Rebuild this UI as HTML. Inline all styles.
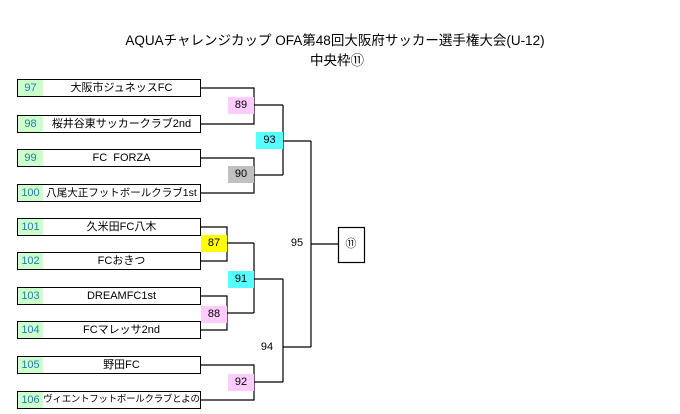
<!DOCTYPE html>
<html><head><meta charset="utf-8"><style>
body{margin:0;width:680px;height:414px;background:#fff;position:relative;overflow:hidden;font-family:"Liberation Sans","Noto Sans CJK JP",sans-serif;}
.t{position:absolute;white-space:nowrap;color:#000;}
.id{position:absolute;left:17px;width:25px;height:16px;border:1px solid #000;background:#ccffcc;color:#1f7fa8;font-size:11px;line-height:16px;text-align:center;box-sizing:content-box}
.nm{position:absolute;left:43px;width:157px;height:16px;border:1px solid #000;border-left:none;background:#fff;font-size:11px;line-height:16px;text-align:center;white-space:nowrap;overflow:hidden}
.m{position:absolute;width:26px;height:17px;font-size:11px;line-height:17px;text-align:center}
</style></head><body>
<div class="t" style="left:110px;top:29px;width:450px;text-align:center;font-size:13.5px;">AQUAチャレンジカップ OFA第48回大阪府サッカー選手権大会(U-12)</div>
<div class="t" style="left:300px;top:49px;width:74px;text-align:center;font-size:13.5px;">中央枠⑪</div>

<svg width="680" height="414" style="position:absolute;left:0;top:0" fill="none" stroke="#000" stroke-width="1.2">
<polyline points="201,88 254,88 254,124 201,124"/>
<line x1="254" y1="105" x2="283" y2="105"/>
<polyline points="201,158 254,158 254,193 201,193"/>
<line x1="254" y1="175" x2="283" y2="175"/>
<line x1="283" y1="105" x2="283" y2="175"/>
<line x1="283" y1="141" x2="311" y2="141"/>
<line x1="311" y1="141" x2="311" y2="347"/>
<line x1="311" y1="244" x2="338" y2="244"/>
<polyline points="201,227 227,227 227,261 201,261"/>
<line x1="227" y1="243" x2="254" y2="243"/>
<polyline points="201,296 227,296 227,330 201,330"/>
<line x1="227" y1="313" x2="254" y2="313"/>
<line x1="254" y1="243" x2="254" y2="313"/>
<line x1="254" y1="279" x2="283" y2="279"/>
<polyline points="201,365 254,365 254,400 201,400"/>
<line x1="254" y1="382" x2="283" y2="382"/>
<line x1="283" y1="279" x2="283" y2="382"/>
<line x1="283" y1="347" x2="311" y2="347"/>
<rect x="338.5" y="227.5" width="26" height="35" fill="#fff"/>
</svg>

<div class="id" style="top:79px">97</div><div class="nm" style="top:79px">大阪市ジュネッスFC</div>
<div class="id" style="top:115px">98</div><div class="nm" style="top:115px">桜井谷東サッカークラブ2nd</div>
<div class="id" style="top:149px">99</div><div class="nm" style="top:149px">FC&nbsp;&nbsp;FORZA</div>
<div class="id" style="top:184px">100</div><div class="nm" style="top:184px;font-size:10.5px">八尾大正フットボールクラブ1st</div>
<div class="id" style="top:218px">101</div><div class="nm" style="top:218px">久米田FC八木</div>
<div class="id" style="top:252px">102</div><div class="nm" style="top:252px">FCおきつ</div>
<div class="id" style="top:287px">103</div><div class="nm" style="top:287px">DREAMFC1st</div>
<div class="id" style="top:321px">104</div><div class="nm" style="top:321px">FCマレッサ2nd</div>
<div class="id" style="top:356px">105</div><div class="nm" style="top:356px">野田FC</div>
<div class="id" style="top:391px">106</div><div class="nm" style="top:391px;font-size:9.5px;letter-spacing:-0.3px">ヴィエントフットボールクラブとよの</div>

<div class="m" style="left:228px;top:97px;background:#ffccff">89</div>
<div class="m" style="left:256px;top:132px;background:#55ffff;width:27px">93</div>
<div class="m" style="left:228px;top:166px;background:#c0c0c0">90</div>
<div class="m" style="left:201px;top:235px;background:#ffff00">87</div>
<div class="m" style="left:228px;top:271px;background:#55ffff">91</div>
<div class="m" style="left:201px;top:306px;background:#ffccff">88</div>
<div class="m" style="left:228px;top:374px;background:#ffccff">92</div>
<div class="m" style="left:284px;top:235px">95</div>
<div class="m" style="left:254px;top:339px">94</div>
<div class="m" style="left:338px;top:236px">⑪</div>
</body></html>
